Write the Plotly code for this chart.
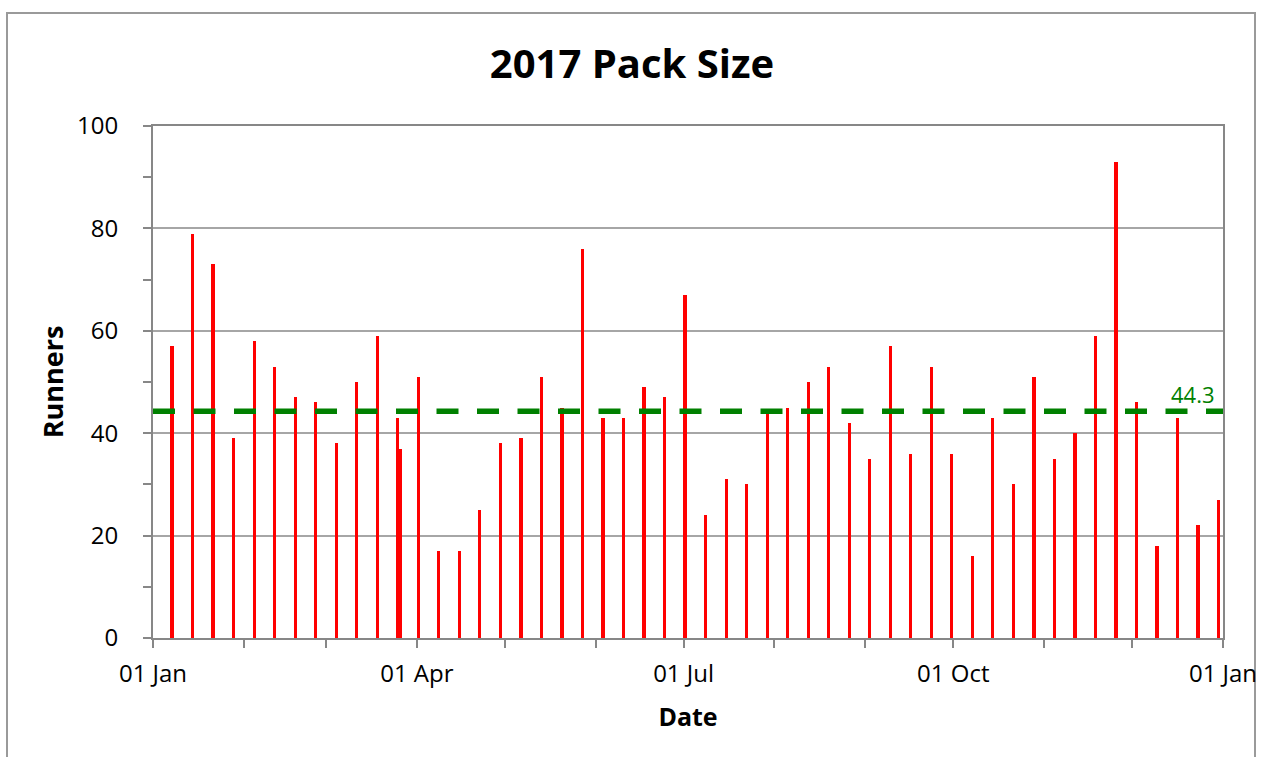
import pandas as pd
import plotly.graph_objects as go

# ---- data ----
dates = [
    "2017-01-07", "2017-01-14", "2017-01-21", "2017-01-28",
    "2017-02-04", "2017-02-11", "2017-02-18", "2017-02-25",
    "2017-03-04", "2017-03-11", "2017-03-18", "2017-03-25", "2017-03-26",
    "2017-04-01", "2017-04-08", "2017-04-15", "2017-04-22", "2017-04-29",
    "2017-05-06", "2017-05-13", "2017-05-20", "2017-05-27",
    "2017-06-03", "2017-06-10", "2017-06-17", "2017-06-24",
    "2017-07-01", "2017-07-08", "2017-07-15", "2017-07-22", "2017-07-29",
    "2017-08-05", "2017-08-12", "2017-08-19", "2017-08-26",
    "2017-09-02", "2017-09-09", "2017-09-16", "2017-09-23", "2017-09-30",
    "2017-10-07", "2017-10-14", "2017-10-21", "2017-10-28",
    "2017-11-04", "2017-11-11", "2017-11-18", "2017-11-25",
    "2017-12-02", "2017-12-09", "2017-12-16", "2017-12-23", "2017-12-30",
]
runners = [
    57, 79, 73, 39,
    58, 53, 47, 46,
    38, 50, 59, 43, 37,
    51, 17, 17, 25, 38,
    39, 51, 45, 76,
    43, 43, 49, 47,
    67, 24, 31, 30, 44,
    45, 50, 53, 42,
    35, 57, 36, 53, 36,
    16, 43, 30, 51,
    35, 40, 59, 93,
    46, 18, 43, 22, 27,
]
x_range = ["2017-01-01", "2018-01-01"]
y_range = [0, 100]
chart_title = "2017 Pack Size"
x_title = "Date"
y_title = "Runners"

# ---- derived ----
# Excel date axes centre each point in its day slot
x_vals = pd.to_datetime(dates) + pd.Timedelta(hours=12)
mean_val = sum(runners) / len(runners)

FONT = "Open Sans, Lato, DejaVu Sans, sans-serif"
AXIS_GREY = "#878787"
GRID_GREY = "#A6A6A6"

# layout geometry (pixels)
W, H = 1264, 757
L, R, T, B = 153, 41, 126, 119
pw, ph = W - L - R, H - T - B

fig = go.Figure()
fig.add_trace(go.Bar(
    x=x_vals, y=runners,
    width=86400000 * 1.1,
    marker=dict(color="#FF0000", line=dict(width=0)),
    showlegend=False,
))

# outer chart border
fig.add_shape(
    type="rect", xref="paper", yref="paper",
    x0=(7 - L) / pw, x1=(1255 - L) / pw,
    y0=(638 - 770) / ph, y1=(638 - 13) / ph,
    line=dict(color="#9A9A9A", width=2), fillcolor="rgba(0,0,0,0)",
    layer="below",
)
# average line
fig.add_shape(
    type="line", xref="paper", yref="y",
    x0=0, x1=1, y0=mean_val, y1=mean_val,
    line=dict(color="#008000", width=5.5, dash="22px,18.5px"),
    layer="above",
)
fig.add_annotation(
    xref="paper", yref="y", x=1, y=mean_val,
    text=f"{mean_val:.1f}", showarrow=False,
    xanchor="right", yanchor="bottom", xshift=-6, yshift=0,
    font=dict(family=FONT, size=22, color="#008000"),
)

fig.update_layout(
    width=W, height=H,
    margin=dict(l=L, r=R, t=T, b=B, autoexpand=False),
    paper_bgcolor="white", plot_bgcolor="white",
    font=dict(family=FONT, color="black"),
    bargap=0,
    title=dict(
        text=f"<b>{chart_title}</b>", x=0.5, xanchor="center",
        y=1 - 64 / H, yanchor="middle", yref="container",
        font=dict(family=FONT, size=40, color="black"),
    ),
    xaxis=dict(
        type="date", range=x_range,
        tick0="2017-01-01", dtick="M3", tickformat="%d %b",
        ticks="outside", ticklen=8, tickwidth=1.5, tickcolor=AXIS_GREY,
        tickfont=dict(family=FONT, size=24, color="black"),
        ticklabelstandoff=5,
        showline=True, linecolor=AXIS_GREY, linewidth=2, mirror=True,
        showgrid=False, zeroline=False,
        minor=dict(dtick="M1", ticks="outside", ticklen=8, tickwidth=1.5,
                   tickcolor=AXIS_GREY, showgrid=False),
        title=dict(text=f"<b>{x_title}</b>", standoff=21,
                   font=dict(family=FONT, size=25, color="black")),
        automargin=False,
    ),
    yaxis=dict(
        range=y_range, dtick=20, tick0=0,
        ticks="outside", ticklen=8, tickwidth=1.5, tickcolor=AXIS_GREY,
        tickfont=dict(family=FONT, size=24, color="black"),
        ticklabelstandoff=20,
        showline=True, linecolor=AXIS_GREY, linewidth=2, mirror=True,
        showgrid=True, gridcolor=GRID_GREY, gridwidth=1.5, zeroline=False,
        minor=dict(dtick=10, ticks="outside", ticklen=8, tickwidth=1.5,
                   tickcolor=AXIS_GREY, showgrid=False),
        title=dict(text=f"<b>{y_title}</b>", standoff=6,
                   font=dict(family=FONT, size=27, color="black")),
        automargin=False,
    ),
)

fig.write_html(
    "out.html",
    config={"displayModeBar": False},
    post_script="document.body.style.margin='0px';document.body.style.overflow='hidden';",
)
